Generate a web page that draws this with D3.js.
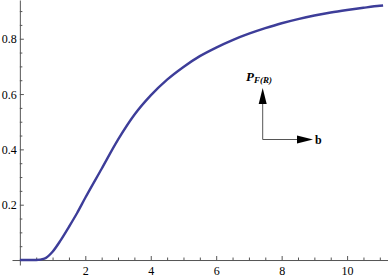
<!DOCTYPE html>
<html lang="en">

<head>
    <meta charset="UTF-8">
    <title>P_F(R) vs b</title>
    <style>
        body {
            margin: 0;
            background: #fff;
        }

        .axis text {
            font: 12px "Liberation Serif", "Times New Roman", serif;
            fill: #000;
        }

        .axis path,
        .axis line {
            stroke: #555;
            stroke-width: 1;
        }

        .note {
            font-family: "Liberation Serif", "Times New Roman", serif;
            fill: #000;
        }
    </style>
</head>

<body>
    <svg width="388" height="278"></svg>
    <script src="https://d3js.org/d3.v7.min.js"></script>
    <script>
        // curve values
        let bValues = [0, 0.5, 0.75, 1, 1.25, 1.5, 1.75, 2, 2.5, 3, 3.5, 4, 4.5, 5, 5.5, 6,
            6.5, 7, 7.5, 8, 8.5, 9, 9.5, 10, 10.5, 11, 11.1];
        let pValues = [0, 0, 0.005, 0.03, 0.072, 0.12, 0.17, 0.225, 0.33, 0.435, 0.525, 0.595,
            0.652, 0.698, 0.737, 0.768, 0.795, 0.818, 0.838, 0.856, 0.871, 0.884, 0.895,
            0.904, 0.912, 0.919, 0.92];
        let xTicks = [2, 4, 6, 8, 10];
        let yTicks = [0.2, 0.4, 0.6, 0.8];

        let svg = d3.select("svg"),
            width = +svg.attr("width"),
            height = +svg.attr("height");

        let x = d3.scaleLinear().domain([-0.24, 11.25]).range([12, 388]);
        let y = d3.scaleLinear().domain([-0.018, 0.94]).range([265, 0]);

        let xMinor = d3.range(0.5, 11.01, 0.5).filter(d => d % 2 !== 0);
        let yMinor = d3.range(0.05, 0.94, 0.05).filter(d => Math.abs(d * 5 - Math.round(d * 5)) > 1e-6);

        // x axis, ticks pointing inward
        let gx = svg.append("g")
            .attr("class", "axis")
            .attr("transform", `translate(0,${y(0)})`);
        gx.call(d3.axisBottom(x).tickValues(xTicks).tickFormat(d3.format("d"))
            .tickSizeInner(-4).tickSizeOuter(0).tickPadding(6.5));
        gx.append("g").call(d3.axisBottom(x).tickValues(xMinor).tickFormat("")
            .tickSizeInner(-2.5).tickSizeOuter(0))
            .select(".domain").remove();

        // y axis
        let gy = svg.append("g")
            .attr("class", "axis")
            .attr("transform", `translate(${x(0)},0)`);
        gy.call(d3.axisLeft(y).tickValues(yTicks).tickFormat(d3.format(".1f"))
            .tickSizeInner(-4).tickSizeOuter(0).tickPadding(3));
        gy.append("g").call(d3.axisLeft(y).tickValues(yMinor).tickFormat("")
            .tickSizeInner(-2.5).tickSizeOuter(0))
            .select(".domain").remove();
        gy.selectAll("text").attr("dy", "0.35em");

        // the curve
        let line = d3.line()
            .x((d, i) => x(bValues[i]))
            .y(d => y(d))
            .curve(d3.curveMonotoneX);

        svg.append("path")
            .datum(pValues)
            .attr("fill", "none")
            .attr("stroke", "#3d3d99")
            .attr("stroke-width", 2.4)
            .attr("stroke-linejoin", "round")
            .attr("d", line);

        // inset arrows
        let ox = 262.7, oy = 139.5;
        let note = svg.append("g");
        note.append("line")
            .attr("x1", ox).attr("y1", oy).attr("x2", ox).attr("y2", 100)
            .attr("stroke", "#555").attr("stroke-width", 1);
        note.append("path")
            .attr("d", `M${ox},88 L${ox - 4},104 L${ox + 4},104 Z`)
            .attr("fill", "#000");
        note.append("line")
            .attr("x1", ox).attr("y1", oy).attr("x2", 300).attr("y2", oy)
            .attr("stroke", "#555").attr("stroke-width", 1);
        note.append("path")
            .attr("d", `M313,${oy} L297,${oy - 4} L297,${oy + 4} Z`)
            .attr("fill", "#000");

        let lab = note.append("text")
            .attr("class", "note")
            .attr("x", 246)
            .attr("y", 80.5)
            .style("font-style", "italic")
            .style("font-weight", "bold");
        lab.append("tspan").style("font-size", "13px").text("P");
        lab.append("tspan").style("font-size", "9px").attr("dy", 2.5).text("F(R)");

        note.append("text")
            .attr("class", "note")
            .attr("x", 315)
            .attr("y", oy + 4)
            .style("font-size", "12px")
            .style("font-weight", "bold")
            .text("b");
    </script>

</body>

</html>
